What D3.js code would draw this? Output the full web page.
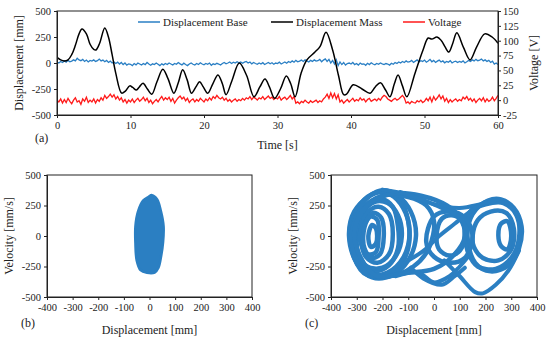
<!DOCTYPE html>
<html>
<head>
<meta charset="utf-8">
<script src="https://cdn.jsdelivr.net/npm/d3@7"></script>
<style>
  body { margin: 0; background: #fff; }
  svg text { font-family: 'Liberation Serif', 'Times New Roman', serif; fill: #222; }
</style>
</head>
<body>
<div id='chart'></div>
<script>

// ---- Data ----
// (a) time series, base + voltage sampled every 0.25 s from 0 to 60 s
const sampleStep = 0.25;
const baseDisp = [
  10, 0, 15, 5, 20, 8, 25, 12, 18, 30, 20, 45, 30, 22, 35, 15, 28, 10, 25, 18,
  30, 15, 22, 38, 20, 28, 12, 25, 5, 18, 0, 10, -5, 8, -10, 5, -15, 0, -20, -8,
  -12, -25, -5, -18, 0, -10, -20, -5, -15, 5, -10, -22, -8, -15, 0, -12, -25, -8, -18, -5,
  -15, 0, -10, -20, -5, -12, 5, -8, -18, -2, -15, -25, -10, 0, -12, -20, -5, -15, 2, -10,
  -18, -5, -12, 0, -22, -8, -15, -3, -10, -20, -5, 5, -8, 0, 10, -5, 8, 0, 12, 2,
  10, -2, 8, 15, 0, 10, -8, 5, -5, -12, 0, -10, 3, -15, -5, 5, -8, 2, -12, 0,
  -5, 8, -10, 0, 10, -2, 15, 5, 20, 8, 25, 12, 18, 28, 15, 30, 20, 10, 25, 15,
  30, 18, 22, 35, 12, 28, 40, 15, 35, 0, 25, -10, 30, -25, 10, -15, 5, -20, -5, 0,
  -10, 5, -15, -5, -20, 0, -12, -8, -22, -3, -15, 2, -10, -18, -5, -12, 0, -8, -15, -5,
  -10, -20, -2, -12, 5, -5, 10, 0, 15, 5, 20, 8, 12, 25, 5, 18, 30, 10, 22, 15,
  28, 8, 20, 35, 12, 25, 5, 18, 28, 10, 20, 2, 15, 8, 22, 0, 12, 18, 5, 15,
  8, 20, 0, 12, 25, 15, 30, 20, 35, 22, 28, 38, 20, 30, 15, 25, 5, 18, -10, 0,
  -15
];
const voltage = [
  0, -3, 2, -5, 1, -4, 3, -2, -6, 0, 4, -3, -1, -7, 2, -2, 5, -4, 0, -3,
  2, -5, 1, -2, 4, 0, 8, 3, 6, 10, 5, 9, 2, 6, 0, 4, -3, 1, -5, 0,
  -3, 2, -4, 0, 3, -2, 1, 5, -1, 3, -4, 0, -6, -2, 1, -3, 2, 6, 0, 4,
  1, 5, -2, 3, -5, 0, 4, 7, 2, 5, -1, 3, -4, 0, 2, -3, 1, -2, 3, 0,
  -3, 2, -1, 4, 0, 6, 3, 8, 4, 2, 5, 0, 3, -2, 1, -3, 0, 2, -2, 1,
  -1, 3, 0, 4, 2, 6, 1, 5, 3, 0, 4, 2, 6, 1, 4, 7, 3, 5, 1, 4,
  2, 6, 0, 3, 5, 1, 4, 8, 2, 6, -5, -3, -6, -2, -4, 0, -3, -5, -1, -4,
  -2, 0, -4, -1, -3, 2, 5, 10, 3, 12, 4, 11, 2, 9, -3, 0, -5, -2, 1, -3,
  0, 3, -2, 1, -1, 4, 0, 2, -3, 1, 3, -2, 0, 2, -1, 3, 0, 5, 8, 6,
  2, 0, -2, 1, 3, 0, 2, 5, 8, 4, -5, -3, -6, -2, -4, -5, -1, -3, 0, -4,
  -2, 3, -1, 5, -3, 6, 0, 4, 9, 2, 7, -2, 3, -4, 1, -3, 0, 2, -2, 1,
  -1, 5, 2, 6, 0, 3, -2, 2, -4, 0, 3, -1, 4, -3, 2, -2, 0, 5, -1, 3,
  8
];
// mass displacement, smooth, key points
const massTime = [0, 0.5, 1, 1.5, 2, 2.5, 3, 3.4, 4, 4.5, 5, 5.3, 5.8, 6.5, 7, 7.5, 8, 8.8, 9.3, 9.9,
  10.3, 10.8, 11.2, 11.7, 12.3, 12.9, 13.6, 14.4, 15.1, 15.9, 16.5, 17.1, 17.7, 18.3, 18.9, 19.4, 19.9,
  20.5, 21.2, 21.9, 22.5, 23, 23.8, 24.8, 25.8, 26.8, 27.6, 28.3, 28.9, 29.6, 30.4, 31.2, 31.8, 32.4,
  33.2, 34, 35.1, 35.8, 36.6, 37.5, 38.3, 39, 39.4, 40.3, 41.5, 42.6, 43.3, 44, 44.7, 45.3, 45.9, 46.4,
  47, 47.6, 48.7, 49.8, 50.5, 51, 51.7, 52.3, 52.8, 53.3, 53.8, 54.4, 55.3, 56.2, 57.1, 58.2, 59.2, 60];
const massDisp = [55, 30, 20, 30, 80, 170, 280, 327, 280, 180, 130, 125, 190, 337, 250, 80, -100, -290, -270, -220,
  -235, -260, -230, -195, -250, -300, -180, -60, -150, -290, -190, -65, -160, -290, -230, -180, -230,
  -290, -200, -115, -200, -305, -170, 0, -120, -325, -230, -155, -230, -340, -250, -125, -200, -325,
  -100, 30, 105, 160, 295, 125, -120, -305, -300, -210, -250, -290, -230, -190, -260, -325, -200, -115,
  -220, -325, -100, 125, 240, 230, 250, 215, 155, 105, 180, 290, 150, 30, 155, 280, 250, 190];

const legendNames = ['Displacement Base', 'Displacement Mass', 'Voltage'];
const timeTicks = [0, 10, 20, 30, 40, 50, 60];
const dispTicks = [-500, -250, 0, 250, 500];
const voltTicks = [-25, 0, 25, 50, 75, 100, 125, 150];
const phaseXTicks = [-400, -300, -200, -100, 0, 100, 200, 300, 400];
const phaseYTicks = [-500, -250, 0, 250, 500];

// (b) outline of the dense base phase-portrait blob [disp, vel]
const baseBlob = [[10, 335], [30, 300], [45, 200], [55, 80], [53, -50], [45, -170], [35, -260], [20, -300],
  [-10, -302], [-35, -280], [-50, -200], [-55, -60], [-55, 80], [-45, 200], [-25, 290], [-5, 320]];

// (c) mass phase-portrait orbits [disp, vel]
const massLoops = [
  [[-330, 0], [-310, 200], [-250, 330], [-200, 375], [-140, 330], [-90, 200], [-70, 0], [-100, -200], [-160, -320], [-240, -340], [-300, -220]],
  [[-325, 10], [-300, 220], [-240, 345], [-185, 360], [-130, 290], [-100, 120], [-100, -100], [-140, -260], [-220, -330], [-290, -250]],
  [[-320, 20], [-290, 230], [-230, 350], [-170, 340], [-120, 230], [-95, 40], [-120, -180], [-180, -300], [-260, -320], [-310, -180]],
  [[-310, -20], [-285, 150], [-250, 260], [-200, 300], [-160, 240], [-140, 80], [-140, -100], [-175, -240], [-235, -290], [-290, -200]],
  [[-300, 0], [-280, 180], [-230, 280], [-180, 270], [-140, 170], [-125, 0], [-150, -170], [-200, -260], [-260, -250], [-295, -130]],
  [[-285, 40], [-255, 200], [-215, 240], [-175, 180], [-160, 20], [-175, -150], [-220, -220], [-265, -170]],
  [[-290, 0], [-270, 100], [-245, 160], [-220, 130], [-215, 0], [-225, -130], [-255, -150], [-280, -80]],
  [[-275, 0], [-260, 130], [-235, 190], [-205, 150], [-195, 0], [-210, -150], [-245, -180], [-270, -100]],
  [[-255, 0], [-240, 90], [-225, 60], [-225, -60], [-245, -90]],
  [[-320, -50], [-290, 200], [-200, 330], [-100, 320], [-30, 250], [0, 120], [-20, -100], [-80, -250], [-180, -330], [-280, -260]],
  [[-310, 0], [-260, 250], [-150, 350], [-50, 330], [50, 250], [100, 150], [120, 0], [80, -150], [0, -270], [-100, -300], [-230, -320]],
  [[130, 0], [150, 180], [210, 290], [260, 300], [310, 230], [340, 80], [330, -100], [290, -240], [220, -290], [160, -220]],
  [[120, 50], [140, 200], [200, 260], [270, 270], [320, 170], [330, -20], [300, -180], [240, -270], [170, -250], [130, -120]],
  [[150, 0], [170, 130], [220, 200], [280, 190], [310, 60], [300, -110], [250, -200], [190, -180], [155, -90]],
  [[250, 0], [260, 100], [285, 120], [300, 0], [285, -110], [260, -80]],
  [[10, 0], [30, 140], [70, 170], [110, 120], [120, 0], [100, -120], [60, -160], [20, -110]],
  [[-30, -50], [0, 160], [60, 200], [120, 150], [150, 0], [120, -180], [60, -220], [0, -170]]
];
const massPaths = [
  [[-200, 380], [-100, 340], [0, 260], [100, 230], [180, 260], [250, 300]],
  [[-130, 360], [-50, 300], [30, 230], [100, 150], [130, 50]],
  [[-150, -330], [-60, -300], [0, -380], [60, -330], [100, -250], [140, -150]],
  [[-90, -260], [-40, -350], [30, -400], [80, -330], [120, -260]],
  [[40, -200], [100, -330], [160, -460], [190, -470], [240, -400], [290, -280], [330, -120]],
  [[-100, -200], [-40, -120], [20, 0], [80, 100], [140, 200], [200, 280]]
];

// ---- Page ----
const W = 550, H = 341;
const blue = '#2a7fc4', red = '#ff1a1a', dotBlue = '#2b7fc2';
const tickFont = 10.5, titleFont = 12;
const plainNum = d => String(d);

const svg = d3.select('#chart').append('svg')
  .attr('width', W).attr('height', H);

function frame(g, x0, y0, x1, y1) {
  g.append('rect')
    .attr('x', x0).attr('y', y0)
    .attr('width', x1 - x0).attr('height', y1 - y0)
    .attr('fill', 'none').attr('stroke', '#222').attr('stroke-width', 1);
}

function styleAxis(sel) {
  sel.selectAll('text').attr('font-size', tickFont).attr('font-family', 'Liberation Serif').attr('fill', '#222');
  sel.select('.domain').attr('stroke', '#222');
  sel.selectAll('.tick line').attr('stroke', '#222');
}

// ---- (a) time series ----
const ta = {left: 57, right: 498, top: 11, bottom: 115};
const xT = d3.scaleLinear().domain([0, 60]).range([ta.left, ta.right]);
const yD = d3.scaleLinear().domain([-500, 500]).range([ta.bottom, ta.top]);
const yV = d3.scaleLinear().domain([-25, 150]).range([ta.bottom, ta.top]);

const ga = svg.append('g');
ga.append('defs').append('clipPath').attr('id', 'clipA')
  .append('rect').attr('x', ta.left).attr('y', ta.top)
  .attr('width', ta.right - ta.left).attr('height', ta.bottom - ta.top);

const plotA = ga.append('g').attr('clip-path', 'url(#clipA)');

plotA.append('path')
  .datum(baseDisp)
  .attr('fill', 'none').attr('stroke', blue).attr('stroke-width', 1.3)
  .attr('d', d3.line().x((d, i) => xT(i * sampleStep)).y(d => yD(d)));

plotA.append('path')
  .datum(voltage)
  .attr('fill', 'none').attr('stroke', red).attr('stroke-width', 1.3)
  .attr('d', d3.line().x((d, i) => xT(i * sampleStep)).y(d => yV(d)));

plotA.append('path')
  .datum(massTime.map((t, i) => [t, massDisp[i]]))
  .attr('fill', 'none').attr('stroke', '#000').attr('stroke-width', 1.5)
  .attr('d', d3.line().curve(d3.curveCatmullRom).x(d => xT(d[0])).y(d => yD(d[1])));

frame(ga, ta.left, ta.top, ta.right, ta.bottom);

ga.append('g').attr('transform', `translate(0,${ta.bottom})`)
  .call(d3.axisBottom(xT).tickValues(timeTicks).tickFormat(plainNum).tickSize(3).tickPadding(4))
  .call(styleAxis);
ga.append('g').attr('transform', `translate(${ta.left},0)`)
  .call(d3.axisLeft(yD).tickValues(dispTicks).tickFormat(plainNum).tickSize(3).tickPadding(3))
  .call(styleAxis);
ga.append('g').attr('transform', `translate(${ta.right},0)`)
  .call(d3.axisRight(yV).tickValues(voltTicks).tickFormat(plainNum).tickSize(3).tickPadding(2))
  .call(styleAxis);

ga.append('text').attr('x', (ta.left + ta.right) / 2).attr('y', 149)
  .attr('text-anchor', 'middle').attr('font-size', titleFont).text('Time [s]');
ga.append('text').attr('x', 35).attr('y', 142).attr('font-size', titleFont).text('(a)');
ga.append('text').attr('transform', `translate(23,${(ta.top + ta.bottom) / 2}) rotate(-90)`)
  .attr('text-anchor', 'middle').attr('font-size', titleFont).text('Displacement [mm]');
ga.append('text').attr('transform', `translate(538,${(ta.top + ta.bottom) / 2}) rotate(-90)`)
  .attr('text-anchor', 'middle').attr('font-size', titleFont).text('Voltage [V]');

// legend
const legendX = [138, 271, 403];
const legendColors = [blue, '#000', red];
legendNames.forEach((name, i) => {
  ga.append('line')
    .attr('x1', legendX[i]).attr('x2', legendX[i] + 22)
    .attr('y1', 22).attr('y2', 22)
    .attr('stroke', legendColors[i]).attr('stroke-width', 1.5);
  ga.append('text')
    .attr('x', legendX[i] + 25).attr('y', 25.5)
    .attr('font-size', 11).text(name);
});

// ---- phase portraits ----
function phasePanel(box, label, drawMarks) {
  const x = d3.scaleLinear().domain([-400, 400]).range([box.left, box.right]);
  const y = d3.scaleLinear().domain([-500, 500]).range([box.bottom, box.top]);
  const g = svg.append('g');
  drawMarks(g, x, y);
  frame(g, box.left, box.top, box.right, box.bottom);
  g.append('g').attr('transform', `translate(0,${box.bottom})`)
    .call(d3.axisBottom(x).tickValues(phaseXTicks).tickFormat(plainNum).tickSize(3).tickPadding(4))
    .call(styleAxis);
  g.append('g').attr('transform', `translate(${box.left},0)`)
    .call(d3.axisLeft(y).tickValues(phaseYTicks).tickFormat(plainNum).tickSize(3).tickPadding(3))
    .call(styleAxis);
  g.append('text').attr('x', (box.left + box.right) / 2).attr('y', 334)
    .attr('text-anchor', 'middle').attr('font-size', titleFont).text('Displacement [mm]');
  g.append('text').attr('x', box.left - 26).attr('y', 327)
    .attr('font-size', titleFont).text(label);
  g.append('text').attr('transform', `translate(${box.left - 34},${(box.top + box.bottom) / 2}) rotate(-90)`)
    .attr('text-anchor', 'middle').attr('font-size', titleFont).text('Velocity [mm/s]');
}

phasePanel({left: 47, right: 252, top: 175, bottom: 297}, '(b)', (g, x, y) => {
  g.append('path')
    .datum(baseBlob)
    .attr('fill', dotBlue).attr('stroke', dotBlue).attr('stroke-width', 2.5)
    .attr('stroke-linejoin', 'round')
    .attr('d', d3.line().curve(d3.curveCatmullRomClosed).x(d => x(d[0])).y(d => y(d[1])));
});

phasePanel({left: 331, right: 537, top: 175, bottom: 297}, '(c)', (g, x, y) => {
  g.selectAll('path.loop')
    .data(massLoops)
    .join('path')
    .attr('class', 'loop')
    .attr('fill', 'none').attr('stroke', dotBlue).attr('stroke-width', 4.5)
    .attr('d', d3.line().curve(d3.curveCatmullRomClosed).x(d => x(d[0])).y(d => y(d[1])));
  g.selectAll('path.orbit')
    .data(massPaths)
    .join('path')
    .attr('class', 'orbit')
    .attr('fill', 'none').attr('stroke', dotBlue).attr('stroke-width', 4)
    .attr('stroke-linecap', 'round')
    .attr('d', d3.line().curve(d3.curveCatmullRom).x(d => x(d[0])).y(d => y(d[1])));
});

</script>
</body>
</html>
